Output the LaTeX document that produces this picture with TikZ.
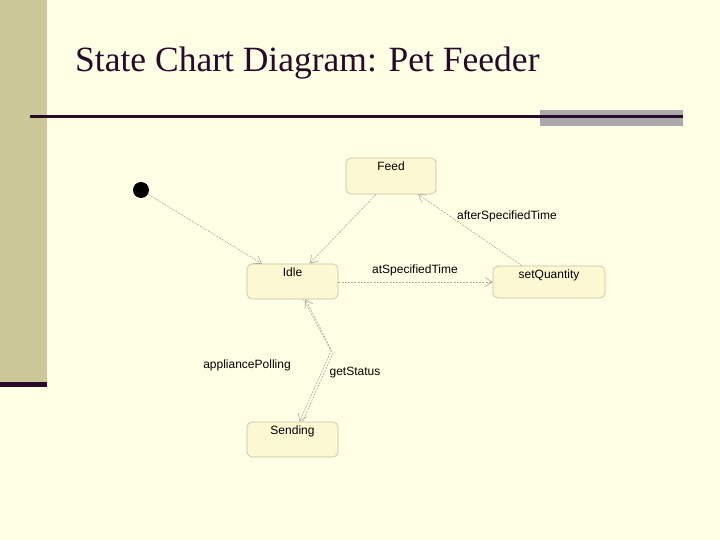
\documentclass[tikz,border=0pt]{standalone}
\usepackage{fontspec}
\setmainfont{Liberation Serif}
\setsansfont{Liberation Sans}
\usetikzlibrary{arrows.meta}
\definecolor{bg}{HTML}{FFFFE6}
\definecolor{sidebar}{HTML}{CCC899}
\definecolor{darkline}{HTML}{2A0A2A}
\definecolor{graybar}{HTML}{AAAAAA}
\definecolor{statefill}{HTML}{FCF8D2}
\definecolor{stateborder}{HTML}{C4BEA4}
\definecolor{edgecol}{HTML}{A8A8A0}
\tikzset{
  statebox/.style={draw=stateborder, fill=statefill, rounded corners=5pt, line width=0.6pt, inner sep=0pt},
  stlabel/.style={font=\sffamily\fontsize{12}{14}\selectfont, anchor=north, inner sep=0pt},
  trans/.style={draw=edgecol, line width=0.6pt, dash pattern=on 2pt off 1.2pt, -{Straight Barb[length=7pt,width=9pt]}},
  evlabel/.style={font=\sffamily\fontsize{12}{14}\selectfont, inner sep=0pt},
}
\begin{document}
\begin{tikzpicture}[x=1pt,y=-1pt]
\useasboundingbox (0,0) rectangle (720,540);
\fill[bg] (0,0) rectangle (720,540);
\fill[sidebar] (0,0) rectangle (47,382);
\fill[darkline] (0,382) rectangle (47,387);
\fill[graybar] (540,110) rectangle (683,126);
\fill[darkline] (30,115.5) rectangle (683,118.5);
\node[anchor=base west, inner sep=0pt, font=\fontsize{35.5}{40}\selectfont, text=darkline] (title) at (75,72) {State Chart Diagram: Pet Feeder};

% states
\node[statebox, minimum width=90pt, minimum height=36pt] (feed) at (391,176) {};
\node[stlabel] (feedlbl) at ([yshift=-4pt]feed.north) {Feed};
\node[statebox, minimum width=91pt, minimum height=35pt] (idle) at (292.5,281.5) {};
\node[stlabel] (idlelbl) at ([yshift=-3.5pt]idle.north) {Idle};
\node[statebox, minimum width=112pt, minimum height=32pt] (setq) at (549,282) {};
\node[stlabel] (setqlbl) at ([yshift=-4pt]setq.north) {setQuantity};
\node[statebox, minimum width=91pt, minimum height=35pt] (send) at (292.5,439.5) {};
\node[stlabel] (sendlbl) at ([yshift=-3.5pt]send.north) {Sending};

\fill[black] (141,190) circle (8);
\node[circle, inner sep=0pt, minimum size=16pt] (initnode) at (141,190) {};

% transitions
\draw[trans] (initnode) -- ([xshift=-30.5pt]idle.north);
\draw[trans] ([xshift=-15pt]feed.south) -- ([xshift=17pt]idle.north);
\draw[trans] (idle.east |- setq.west) -- (setq.west);
\draw[trans] ([xshift=-27pt]setq.north) -- ([xshift=27pt]feed.south);
\coordinate (bend1) at (331,351);
\coordinate (bend2) at (333,353);
\draw[trans] ([xshift=11pt]idle.south) -- (bend1) -- ([xshift=7pt]send.north);
\draw[trans] ([xshift=10pt]send.north) -- (bend2) -- ([xshift=13pt]idle.south);

% event labels
\node[evlabel] (l1) at (415,270) {atSpecifiedTime};
\node[evlabel] (l2) at (507,216) {afterSpecifiedTime};
\node[evlabel] (l3) at (247,365) {appliancePolling};
\node[evlabel] (l4) at (355,373) {getStatus};
\end{tikzpicture}
\end{document}
